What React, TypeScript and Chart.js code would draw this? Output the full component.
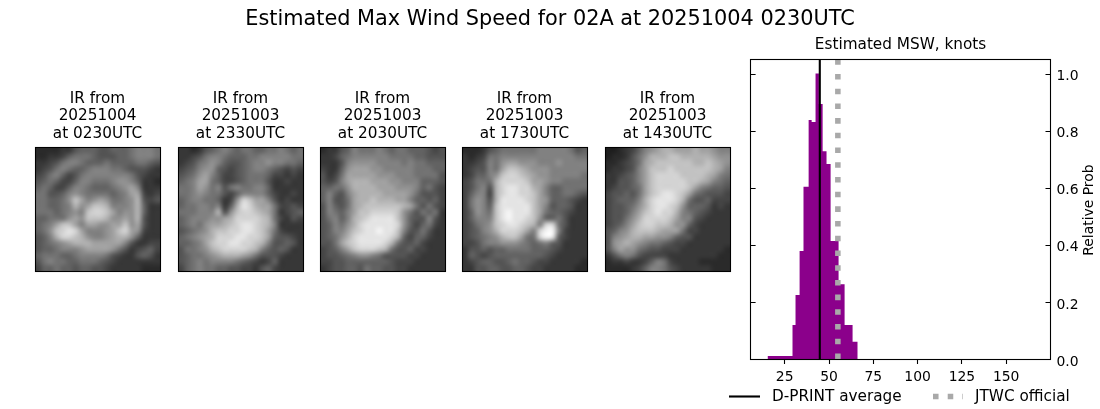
import React, { useEffect, useRef } from 'react';
import { Chart, registerables } from 'chart.js';

Chart.register(...registerables);

const FONT = '"DejaVu Sans"';

const SUPTITLE = 'Estimated Max Wind Speed for 02A at 20251004 0230UTC';
const HIST_TITLE = 'Estimated MSW, knots';
const Y_LABEL = 'Relative Prob';

// histogram: left edge of each step and its height
const binEdges = [15.3, 29.4, 31.1, 33.4, 35.6, 38.5, 40.2, 42.4, 44.3, 46.4, 48.6, 50.9, 55.4, 58.8, 63.3, 66.2];
const binHeights = [0.0105, 0.119, 0.224, 0.378, 0.603, 0.837, 0.83, 1.0, 0.893, 0.728, 0.683, 0.413, 0.262, 0.119, 0.06, 0];

const dprintAverage = 44.8;
const jtwcOfficial = 55;
const xTicks = [25, 50, 75, 100, 125, 150];
const yTicks = [0, 0.2, 0.4, 0.6, 0.8, 1.0];

// coarse IR brightness by eye, one hex digit per cell
const ir0230 = [
  '22223356665566678887', '22334677765556678887', '33457887666766667765', '34578766788877655543',
  '45786457888888875433', '56764468877789986332', '676446887666789a8333', '775568987777678aa434',
  '776679ca89a97789b545', '776678b9accb8889b633', '77767898cddca899b633', '667779a9cccb99a9b533',
  '678acca8aa99aac9a533', '679cdeda8889acda9433', '568bddcb9889abb96333', '56789abbbaaaaa853344',
  '56678889aaaa97534564', '67776678888754335653', '57877667776543333333', '46676656655433333222',
];
const ir2330 = [
  '33235678767766778767', '33457887666778888877', '34578986556788988776', '45689965456788765454',
  '5679a864456777644343', '678aa764456777533433', '778a9785787788633333', '77898775468888643343',
  '6788776349dcaa853433', '677887836bedbaa74454', '777888b59cddcba73456', '6788899abddddcb74354',
  '67879aabcdeedcb83333', '56789bccddeedca74333', '6789abdddeeddca65543', '6678acddeeddcb855653',
  '57789bcddddcb8656533', '567789abbba975554333', '56787888876543463333', '46787766554435643333',
];
const ir2030 = [
  '23356877787677666545', '33467888888777766555', '33358999988887877666', '43369aaa998888877766',
  '5347aaaaa99988877775', '5458abbbaaa998886665', '66779bbbbaaa99986754', '68658abbbbaaaa975554',
  '68557abbcbbbaa866564', '58657abccccccba75754', '58768accddddc9757673', '57868bcdeeeec9655853',
  '56879bdeeeeed9646743', '5688acdeefeec8557533', '5679bdeeeeedb6466433', '557acdeeeedb75564333',
  '4568acdddcb755644333', '45567899875555443333', '44556666666544433333', '34556657665544333333',
];
const ir1730 = [
  '22235677777788888756', '32347788888888888877', '3345879aa99988898888', '345587accba999888888',
  '346689cddcba99888887', '45777bddddcaa9887777', '45785bdeeddba8667777', '46884bdeeddca8667765',
  '47985beeeedca9666543', '47986ceeeeeca8566533', '46987cefeeeca7665433', '46888cefeedc96675333',
  '45789cdeedcb8dd75333', '45689bdddca8dff84333', '456789bcca77dfe64333', '44578899987678653333',
  '35565667777666543333', '36545666666665433333', '34566556766544333332', '33556655665443333322',
];
const ir1430 = [
  '11234689abbaaabaa988', '1223579bbbccbbbbba99', '223457abccccccbbcba9', '233458acccdccccccba8',
  '334568acddddccccba87', '335568acdddddccba876', '345567acdddddca87665', '455657acdeedca765554',
  '456668bdeeedb7556444', '455679bdeedc96665343', '45568acdeddb87654333', '45579bddddca88543333',
  '4568acddccb996433333', '5689bcccbaaa74433333', '589abbaa998655333333', '59aba987765443333333',
  '58a99765544433333332', '35787544443333333322', '23343346874333322222', '22223468875433333222',
];

const irPanels = [
  { lines: ['IR from', '20251004', 'at 0230UTC'], rows: ir0230 },
  { lines: ['IR from', '20251003', 'at 2330UTC'], rows: ir2330 },
  { lines: ['IR from', '20251003', 'at 2030UTC'], rows: ir2030 },
  { lines: ['IR from', '20251003', 'at 1730UTC'], rows: ir1730 },
  { lines: ['IR from', '20251003', 'at 1430UTC'], rows: ir1430 },
];
const panelLefts = [35, 178, 320, 462, 605];

const irImagePlugin = {
  id: 'irImage',
  beforeDatasetsDraw(chart: any) {
    const cells = chart.data.datasets[0].data;
    const n = Math.sqrt(cells.length);
    const off = document.createElement('canvas');
    off.width = n;
    off.height = n;
    const octx = off.getContext('2d')!;
    const img = octx.createImageData(n, n);
    cells.forEach((c: any) => {
      const i = (c.y * n + c.x) * 4;
      const g = 20 + 225 * Math.pow(c.v / 15, 1.15);
      img.data[i] = g;
      img.data[i + 1] = g;
      img.data[i + 2] = g;
      img.data[i + 3] = 255;
    });
    octx.putImageData(img, 0, 0);
    const { x, y } = chart.scales;
    const ctx = chart.ctx;
    ctx.save();
    ctx.imageSmoothingEnabled = true;
    ctx.imageSmoothingQuality = 'high';
    ctx.drawImage(off, x.getPixelForValue(0), y.getPixelForValue(0), x.getPixelForValue(n) - x.getPixelForValue(0), y.getPixelForValue(n) - y.getPixelForValue(0));
    ctx.restore();
  },
};

// matplotlib style box around the axes
const spinesPlugin = {
  id: 'spines',
  afterDraw(chart: any) {
    const { left, top, width, height } = chart.chartArea;
    const ctx = chart.ctx;
    ctx.save();
    ctx.strokeStyle = '#000';
    ctx.lineWidth = 1.1;
    ctx.strokeRect(Math.floor(left) + 0.5, Math.floor(top) + 0.5, Math.round(width), Math.round(height));
    ctx.restore();
  },
};

// inward y ticks on both sides, rotated y label and the figure legend
const histExtrasPlugin = {
  id: 'histExtras',
  afterDraw(chart: any) {
    const { left, right, top, bottom } = chart.chartArea;
    const ctx = chart.ctx;
    const y = chart.scales.y;
    ctx.save();
    ctx.strokeStyle = '#000';
    ctx.lineWidth = 1.1;
    yTicks.forEach((t) => {
      const py = Math.round(y.getPixelForValue(t)) + 0.5;
      ctx.beginPath();
      ctx.moveTo(left, py);
      ctx.lineTo(left + 5, py);
      ctx.moveTo(right - 5, py);
      ctx.lineTo(right, py);
      ctx.stroke();
    });

    ctx.fillStyle = '#000';
    ctx.font = `13.9px ${FONT}`;
    ctx.textAlign = 'center';
    ctx.textBaseline = 'middle';
    ctx.translate(1089.5, (top + bottom) / 2 + 1);
    ctx.rotate(-Math.PI / 2);
    ctx.fillText(Y_LABEL, 0, 0);
    ctx.restore();

    ctx.save();
    const legendY = 396.5;
    const entries = [
      { index: 1, x0: 729, x1: 760, textX: 772 },
      { index: 2, x0: 933, x1: 963, textX: 975 },
    ];
    ctx.font = `15.28px ${FONT}`;
    ctx.textAlign = 'left';
    ctx.textBaseline = 'middle';
    entries.forEach((e) => {
      const ds = chart.data.datasets[e.index];
      ctx.strokeStyle = ds.borderColor;
      ctx.lineWidth = ds.borderWidth;
      ctx.setLineDash(ds.borderDash || []);
      ctx.beginPath();
      ctx.moveTo(e.x0, legendY);
      ctx.lineTo(e.x1, legendY);
      ctx.stroke();
      ctx.fillStyle = '#000';
      ctx.fillText(ds.label, e.textX, legendY + 0.5);
    });
    ctx.restore();
  },
};

const IrPanel: React.FC<{ left: number; lines: string[]; rows: string[] }> = ({ left, lines, rows }) => {
  const ref = useRef<HTMLCanvasElement>(null);

  useEffect(() => {
    if (!ref.current) return;
    const n = rows.length;
    const cells = rows.flatMap((row, r) => [...row].map((c, col) => ({ x: col, y: r, v: parseInt(c, 16) })));
    const chart = new Chart(ref.current, {
      type: 'scatter',
      data: { datasets: [{ data: cells as any, pointRadius: 0 }] },
      options: {
        animation: false,
        responsive: false,
        layout: { padding: { left: 10, right: 10, top: 0, bottom: 9 } },
        plugins: {
          legend: { display: false },
          tooltip: { enabled: false },
          title: {
            display: true,
            text: lines,
            color: '#000',
            font: { family: FONT, size: 15.28, weight: 'normal', lineHeight: 1.145 },
            padding: { top: 5, bottom: 4.8 },
          },
        },
        scales: {
          x: { type: 'linear', display: false, min: 0, max: n },
          y: { type: 'linear', display: false, min: 0, max: n, reverse: true },
        },
      },
      plugins: [irImagePlugin, spinesPlugin],
    });
    return () => chart.destroy();
  }, [left, lines, rows]);

  return (
    <canvas
      ref={ref}
      width={145}
      height={195}
      style={{ position: 'absolute', left: left - 10, top: 85, display: 'block' }}
    />
  );
};

const App: React.FC = () => {
  const ref = useRef<HTMLCanvasElement>(null);

  useEffect(() => {
    if (!ref.current) return;
    const histPoints = binEdges.map((x, i) => ({ x, y: binHeights[i] }));
    const chart = new Chart(ref.current, {
      type: 'line',
      data: {
        datasets: [
          {
            label: 'hist',
            data: histPoints,
            stepped: 'before',
            fill: 'origin',
            backgroundColor: '#8b008b',
            borderWidth: 0,
            pointRadius: 0,
            order: 3,
          },
          {
            label: 'D-PRINT average',
            data: [{ x: dprintAverage, y: 0 }, { x: dprintAverage, y: 1.05 }],
            borderColor: '#000',
            borderWidth: 2.1,
            pointRadius: 0,
            order: 2,
          },
          {
            label: 'JTWC official',
            data: [{ x: jtwcOfficial, y: 0 }, { x: jtwcOfficial, y: 1.05 }],
            borderColor: '#a9a9a9',
            borderWidth: 5.55,
            borderDash: [5.55, 9.16],
            pointRadius: 0,
            order: 1,
          },
        ],
      },
      options: {
        animation: false,
        responsive: false,
        plugins: {
          legend: { display: false },
          tooltip: { enabled: false },
          title: {
            display: true,
            text: SUPTITLE,
            color: '#000',
            font: { family: FONT, size: 20.83, weight: 'normal' },
            padding: { top: 7, bottom: 4 },
          },
          subtitle: {
            display: true,
            fullSize: false,
            text: HIST_TITLE,
            color: '#000',
            font: { family: FONT, size: 15.28, weight: 'normal' },
            padding: { top: 0, bottom: 4.9 },
          },
        },
        scales: {
          x: {
            type: 'linear',
            min: 5.75,
            max: 175,
            afterBuildTicks: (s: any) => {
              s.ticks = xTicks.map((value) => ({ value }));
            },
            afterFit: (s: any) => {
              s.height = 50;
            },
            border: { display: false },
            grid: { display: true, drawOnChartArea: false, drawTicks: true, tickLength: 5, tickColor: '#000', tickWidth: 1.1 },
            ticks: { color: '#000', font: { family: FONT, size: 13.9 }, padding: 5, maxRotation: 0, autoSkip: false },
          },
          y: {
            type: 'linear',
            position: 'right',
            min: 0,
            max: 1.05,
            afterBuildTicks: (s: any) => {
              s.ticks = yTicks.map((value) => ({ value }));
            },
            afterFit: (s: any) => {
              s.width = 49.5;
            },
            border: { display: false },
            grid: { display: false, drawTicks: false },
            ticks: {
              color: '#000',
              font: { family: FONT, size: 13.9 },
              padding: 6,
              labelOffset: 3,
              callback: (v: any) => Number(v).toFixed(1),
            },
          },
          // empty left axis, holds the space taken by the IR panels
          yLeft: {
            type: 'linear',
            axis: 'y',
            position: 'left',
            min: 0,
            max: 1.05,
            afterFit: (s: any) => {
              s.width = 750.6;
            },
            border: { display: false },
            grid: { display: false, drawTicks: false },
            ticks: { display: false },
          },
        },
      },
      plugins: [spinesPlugin, histExtrasPlugin],
    });
    return () => chart.destroy();
  }, []);

  return (
    <div style={{ position: 'absolute', left: 0, top: 0, width: 1100, height: 409, background: '#fff' }}>
      <canvas ref={ref} width={1100} height={409} style={{ position: 'absolute', left: 0, top: 0, display: 'block' }} />
      {irPanels.map((p, i) => (
        <IrPanel key={i} left={panelLefts[i]} lines={p.lines} rows={p.rows} />
      ))}
    </div>
  );
};

export default App;
